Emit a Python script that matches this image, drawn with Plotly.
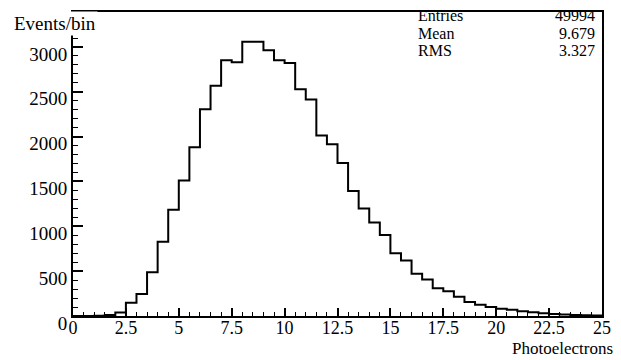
import numpy as np
import plotly.graph_objects as go

# Histogram binning (photoelectron count), 0.5 wide bins from 0 to 25
bin_start = 0.0
bin_width = 0.5
counts = [
    0, 0, 2, 10, 40, 148, 245, 488, 828, 1186,
    1512, 1883, 2306, 2567, 2853, 2830, 3057, 3057, 2964, 2853,
    2820, 2528, 2414, 2012, 1915, 1707, 1394, 1198, 1042, 902,
    699, 618, 470, 407, 309, 277, 215, 155, 126, 100,
    82, 71, 52, 41, 32, 22, 16, 11, 8, 5,
]

# Statistics box contents
stat_names = ["Entries", "Mean", "RMS"]
stat_values = ["49994", "9.679", "3.327"]

x_title = "Photoelectrons"
y_title = "Events/bin"

x_tickvals = [0, 2.5, 5, 7.5, 10, 12.5, 15, 17.5, 20, 22.5, 25]
x_ticktext = ["0", "2.5", "5", "7.5", "10", "12.5", "15", "17.5", "20", "22.5", "25"]
y_tickvals = [0, 500, 1000, 1500, 2000, 2500, 3000]

FONT = "Liberation Serif"
FS = 19

# step outline: left edges of every bin plus the final right edge
edges = bin_start + bin_width * np.arange(len(counts) + 1)
step_y = list(counts) + [counts[-1]]

fig = go.Figure()
fig.add_trace(go.Scatter(
    x=edges, y=step_y, mode="lines",
    line=dict(shape="hv", color="black", width=2),
    showlegend=False, hoverinfo="skip",
))

fig.update_layout(
    width=621, height=360,
    margin=dict(l=73, r=17, t=10, b=44),
    paper_bgcolor="white", plot_bgcolor="white",
    font=dict(family=FONT, size=FS, color="black"),
    xaxis=dict(
        range=[0, 25], showgrid=False, zeroline=False,
        showline=True, linecolor="black", linewidth=2, mirror=True,
        ticks="inside", ticklen=8, tickwidth=1.5, tickcolor="black",
        tickvals=x_tickvals, ticktext=x_ticktext,
        minor=dict(dtick=0.5, ticks="inside", ticklen=4, tickwidth=1.2, tickcolor="black"),
        tickfont=dict(family=FONT, size=18),
        ticklabelstandoff=-6,
    ),
    yaxis=dict(
        range=[0, 3390], showgrid=False, zeroline=False,
        showline=True, linecolor="black", linewidth=2, mirror=True,
        ticks="inside", ticklen=10, tickwidth=1.5, tickcolor="black",
        tickvals=y_tickvals,
        minor=dict(dtick=100, ticks="inside", ticklen=5, tickwidth=1.2, tickcolor="black"),
        tickfont=dict(family=FONT, size=FS),
        ticklabelshift=7,
    ),
)

annotations = [
    dict(text=y_title, xref="paper", yref="paper", x=-0.115, y=0.962,
         xanchor="left", yanchor="middle", showarrow=False,
         bgcolor="white", font=dict(family=FONT, size=FS)),
    dict(text=x_title, xref="paper", yref="paper", x=1.0245, y=-44 / 306,
         xanchor="right", yanchor="bottom", showarrow=False,
         font=dict(family=FONT, size=17)),
]
row_y = [0.987, 0.930, 0.873]
for name, val, yy in zip(stat_names, stat_values, row_y):
    annotations.append(dict(text=name, xref="paper", yref="paper", x=0.648, y=yy,
                            xanchor="left", yanchor="middle", showarrow=False,
                            font=dict(family=FONT, size=16)))
    annotations.append(dict(text=val, xref="paper", yref="paper", x=0.99, y=yy,
                            xanchor="right", yanchor="middle", showarrow=False,
                            font=dict(family=FONT, size=16)))
fig.update_layout(annotations=annotations)

fig.write_html("out.html")
